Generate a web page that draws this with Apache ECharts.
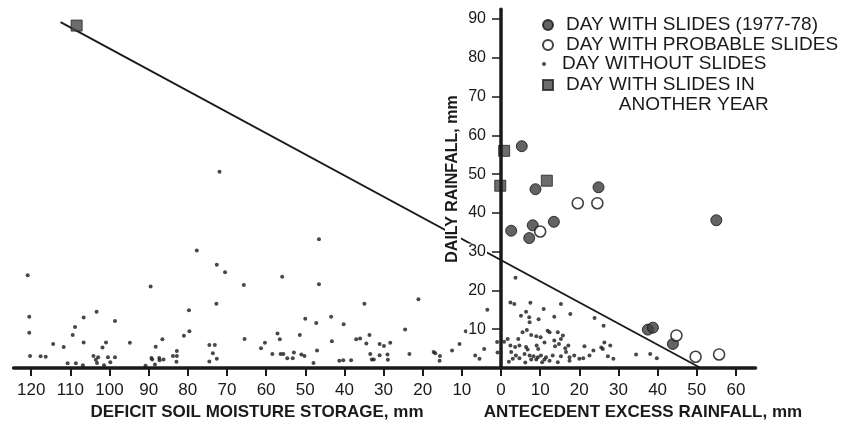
<!DOCTYPE html>
<html><head><meta charset="utf-8">
<script src="https://cdn.jsdelivr.net/npm/echarts@6/dist/echarts.min.js"></script>
<style>html,body{margin:0;padding:0;background:#fff}#c{width:850px;height:423px}</style>
</head><body><div id="c"></div>
<script>
// ---- data ----
const xTickValues = [-120,-110,-100,-90,-80,-70,-60,-50,-40,-30,-20,-10,0,10,20,30,40,50,60];
const yTickValues = [10,20,30,40,50,60,70,80,90];
const seriesNames = ['DAY WITH SLIDES (1977-78)','DAY WITH PROBABLE SLIDES','DAY WITHOUT SLIDES','DAY WITH SLIDES IN\n          ANOTHER YEAR'];
const xTitleLeft = 'DEFICIT SOIL MOISTURE STORAGE, mm';
const xTitleRight = 'ANTECEDENT EXCESS RAINFALL, mm';
const yTitle = 'DAILY RAINFALL, mm';
// [x (mm; deficit negative), daily rainfall mm]
const slides = [[5.3,57.2],[8.8,46.1],[24.9,46.6],[8.1,36.8],[2.6,35.4],[13.5,37.7],[7.2,33.5],[55.0,38.1],[37.5,9.9],[38.8,10.4],[43.9,6.2]];
const probableSlides = [[19.6,42.5],[24.6,42.5],[10.0,35.2],[44.8,8.4],[49.7,2.9],[55.7,3.5]];
const otherYearSlides = [[-108.4,88.3],[0.8,56],[-0.2,47],[11.7,48.3]];
const noSlidesLeft = [[-120.9,23.9],[-120.5,13.2],[-120.5,9.1],[-120.3,3.1],[-117.6,3.0],[-116.3,2.9],[-114.4,6.2],[-111.7,5.4],[-110.7,1.2],[-108.6,1.2],[-106.8,0.7],[-109.4,8.5],[-108.8,10.6],[-106.6,13.0],[-106.6,6.6],[-103.3,14.5],[-104.1,3.1],[-102.9,2.8],[-103.5,2.1],[-103.2,1.3],[-101.8,5.3],[-100.9,6.6],[-100.4,2.8],[-99.8,1.5],[-98.6,2.8],[-101.4,0.7],[-98.6,12.1],[-94.8,6.5],[-90.8,0.6],[-89.5,21.0],[-88.2,5.5],[-86.5,7.4],[-89.3,2.6],[-89.1,2.2],[-88.4,0.9],[-87.3,2.6],[-87.2,2.0],[-86.2,2.2],[-83.8,3.1],[-82.8,4.4],[-82.8,3.1],[-82.9,1.6],[-81.0,8.3],[-79.7,14.9],[-79.6,9.5],[-77.7,30.3],[-72.6,26.6],[-70.5,24.7],[-71.9,50.6],[-72.7,16.6],[-74.5,5.9],[-73.1,5.9],[-73.6,3.8],[-72.6,2.4],[-74.5,1.7],[-65.7,21.4],[-65.5,7.5],[-61.3,5.1],[-60.3,6.5],[-58.4,3.6],[-56.3,3.6],[-55.6,3.6],[-54.6,2.5],[-53.2,2.5],[-52.9,4.0],[-51.0,3.5],[-50.2,3.1],[-57.1,8.9],[-56.5,7.4],[-55.9,23.5],[-51.4,8.5],[-50.0,12.7],[-47.2,11.6],[-47.0,4.5],[-47.9,1.3],[-46.5,33.2],[-46.5,21.6],[-43.4,13.2],[-43.2,6.9],[-41.3,1.9],[-40.3,2.0],[-38.3,2.0],[-40.2,11.3],[-37.0,7.4],[-36.0,7.6],[-34.9,16.6],[-34.4,6.3],[-33.6,8.5],[-33.4,3.6],[-33.0,2.2],[-32.5,2.2],[-31.0,6.2],[-29.9,5.7],[-28.3,6.5],[-31.0,3.3],[-29.0,3.5],[-28.9,2.1],[-24.5,9.9],[-23.4,3.6],[-21.1,17.7],[-17.2,4.1],[-16.8,3.8],[-15.6,3.1],[-15.7,1.9],[-12.5,4.5],[-10.6,6.2],[-9.0,9.5],[-7.5,8.9],[-3.5,15.0],[-6.6,3.2],[-5.5,2.4],[-4.3,4.9],[-1.0,6.7],[-0.9,4.0]];
const noSlidesRight = [[3.7,23.3],[2.4,16.9],[3.4,16.5],[7.5,16.8],[10.9,15.2],[15.3,16.5],[5.1,13.5],[6.4,14.5],[7.2,13.1],[7.3,11.8],[9.6,12.6],[13.6,13.2],[17.7,13.9],[23.9,12.9],[26.2,10.9],[6.6,9.8],[5.5,9.2],[7.7,8.5],[9.0,8.2],[10.1,7.9],[11.9,9.6],[12.4,9.2],[14.5,9.2],[15.8,8.4],[15.3,7.5],[1.7,7.5],[0.8,6.8],[4.4,7.5],[2.4,5.8],[3.6,5.4],[4.7,5.8],[6.4,5.4],[6.8,4.8],[9.1,5.8],[9.5,4.9],[11.1,6.6],[13.6,7.1],[13.8,5.6],[14.8,6.2],[16.4,5.1],[17.2,5.8],[2.6,4.1],[3.8,3.2],[6.0,3.6],[7.3,3.2],[8.3,3.0],[9.4,2.8],[10.2,3.2],[11.1,2.2],[11.5,2.8],[13.2,3.2],[15.3,3.0],[16.6,4.1],[17.5,2.8],[18.7,3.2],[20.0,2.4],[3.0,2.4],[4.7,2.5],[7.7,2.2],[9.0,2.2],[12.4,1.9],[17.5,1.9],[2.0,1.6],[6.2,1.4],[10.5,1.5],[14.5,1.5],[21.3,5.6],[23.6,4.5],[22.6,3.2],[21.0,2.5],[25.6,5.3],[26.0,4.9],[26.4,6.6],[27.9,5.8],[27.3,3.0],[28.7,2.4],[34.5,3.5],[38.1,3.6],[39.8,2.5]];
const thresholdLine = [[-112.5,89.2],[51.0,0]];

// ---- chart ----
const FONT = 'Liberation Sans, Arial, Helvetica, sans-serif';
const ink = '#1a1a1a';
const X_MIN = -124.5, X_MAX = 65, Y_MAX = 92.5;
const chart = echarts.init(document.getElementById('c'), null, {renderer:'canvas'});
const legendBase = {
  orient:'vertical', left:542, padding:0, itemWidth:26, itemHeight:10, selectedMode:false,
  symbolKeepAspect:true,
  textStyle:{fontFamily:FONT, fontSize:19, lineHeight:20, color:ink}
};
const option = {
  backgroundColor:'#fff',
  animation:false,
  grid:[
    {left:13.6, right:94.5, top:9.3, bottom:55, outerBoundsMode:'none', containLabel:false},
    {left:501, right:348, top:9.3, bottom:55, outerBoundsMode:'none', containLabel:false}
  ],
  xAxis:[{
    type:'value', min:X_MIN, max:X_MAX, gridIndex:0,
    splitLine:{show:false},
    axisLine:{onZero:false, lineStyle:{color:ink, width:3.5}},
    axisTick:{customValues:xTickValues, length:8, lineStyle:{color:ink, width:2}},
    axisLabel:{customValues:xTickValues, margin:14, fontFamily:FONT, fontSize:17, color:ink,
      formatter:v=>String(Math.abs(v))},
    z:5
  },{
    type:'value', min:0, max:1, gridIndex:1, show:false
  }],
  yAxis:[{
    type:'value', min:0, max:Y_MAX, gridIndex:0, show:false
  },{
    type:'value', min:0, max:Y_MAX, gridIndex:1,
    splitLine:{show:false},
    axisLine:{onZero:false, lineStyle:{color:ink, width:3.5}},
    axisTick:{customValues:yTickValues, length:9, lineStyle:{color:ink, width:1.5}},
    axisLabel:{customValues:yTickValues, margin:14, fontFamily:FONT, fontSize:16, color:ink,
      backgroundColor:'#fff', padding:[0,1]},
    z:5
  }],
  legend:[
    Object.assign({}, legendBase, {top:15, data:[{name:seriesNames[0], icon:'circle'}]}),
    Object.assign({}, legendBase, {top:35, data:[{name:seriesNames[1], icon:'circle'}]}),
    Object.assign({}, legendBase, {top:54, itemHeight:4, data:[{name:seriesNames[2], icon:'circle'}]}),
    Object.assign({}, legendBase, {top:55, formatter:n=>'\n'+n, data:[{name:seriesNames[3], icon:'path://M0,0L10,0L10,10L0,10Z'}]})
  ],
  graphic:[
    {type:'text', x:257, y:412, z:10, style:{text:xTitleLeft, font:'bold 17px '+FONT, fill:ink, align:'center', verticalAlign:'middle'}},
    {type:'text', x:643, y:412, z:10, style:{text:xTitleRight, font:'bold 17px '+FONT, fill:ink, align:'center', verticalAlign:'middle'}},
    {type:'text', x:453, y:179, rotation:Math.PI/2, z:10, style:{text:yTitle, font:'bold 16px '+FONT, fill:ink, align:'center', verticalAlign:'middle', backgroundColor:'#fff', padding:[0,2]}}
  ],
  series:[
    {type:'line', name:'threshold', data:thresholdLine, showSymbol:false, silent:true, z:1,
      lineStyle:{color:ink, width:1.8}},
    {type:'scatter', name:seriesNames[2], data:noSlidesLeft.concat(noSlidesRight), symbol:'circle', symbolSize:4, z:2,
      itemStyle:{color:ink}},
    {type:'scatter', name:seriesNames[0], data:slides, symbol:'circle', symbolSize:11, z:3,
      itemStyle:{color:'#3c3c3c', borderColor:'#111', borderWidth:1}},
    {type:'scatter', name:seriesNames[1], data:probableSlides, symbol:'circle', symbolSize:11, z:3,
      itemStyle:{color:'#fff', borderColor:'#111', borderWidth:1.6}},
    {type:'scatter', name:seriesNames[3], data:otherYearSlides, symbol:'rect', symbolSize:11, z:3,
      itemStyle:{color:'#474747', borderColor:'#222', borderWidth:1}}
  ]
};
chart.setOption(option);
</script></body></html>
